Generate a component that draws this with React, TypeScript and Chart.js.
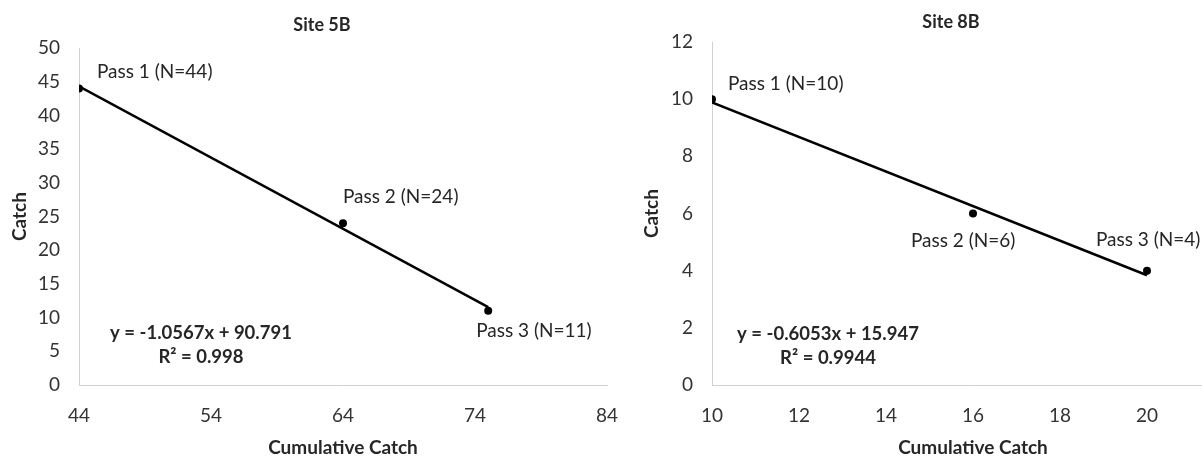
import React, { useEffect, useRef } from 'react';
import { Chart, registerables } from 'chart.js';

Chart.register(...registerables);

// ---------- Data ----------
const site5bTitle = 'Site 5B';
const site5bX = [44, 64, 75];
const site5bY = [44, 24, 11];
const site5bPointLabels = ['Pass 1 (N=44)', 'Pass 2 (N=24)', 'Pass 3 (N=11)'];
const site5bTrendX = [44, 75];
const site5bTrendY = [44.3, 11.54];
const site5bEquation = ['y = -1.0567x + 90.791', 'R² = 0.998'];
const site5bXTicks = [44, 54, 64, 74, 84];
const site5bYTicks = [0, 5, 10, 15, 20, 25, 30, 35, 40, 45, 50];

const site8bTitle = 'Site 8B';
const site8bX = [10, 16, 20];
const site8bY = [10, 6, 4];
const site8bPointLabels = ['Pass 1 (N=10)', 'Pass 2 (N=6)', 'Pass 3 (N=4)'];
const site8bTrendX = [10, 20];
const site8bTrendY = [9.89, 3.84];
const site8bEquation = ['y = -0.6053x + 15.947', 'R² = 0.9944'];
const site8bXTicks = [10, 12, 14, 16, 18, 20, 22];
const site8bYTicks = [0, 2, 4, 6, 8, 10, 12];

const xAxisTitle = 'Cumulative Catch';
const yAxisTitle = 'Catch';

const FONT = 'Lato, "Open Sans", sans-serif';

type PanelProps = {
  title: string;
  xs: number[];
  ys: number[];
  pointLabels: string[];
  trendX: number[];
  trendY: number[];
  equation: string[];
  xTicks: number[];
  yTicks: number[];
  // layout / style
  left: number;
  width: number;
  height: number;
  yAxisWidth: number;
  yTitlePad: number;
  padTop: number;
  padRight: number;
  titleDx: number;
  titleY: number;
  labelOffsets: [number, number][];
  eqDx: number;
  eqDy: [number, number];
};

function Panel(p: PanelProps) {
  const ref = useRef<HTMLCanvasElement | null>(null);

  useEffect(() => {
    if (!ref.current) return;
    const annot = {
      id: 'annot',
      afterDatasetsDraw(chart: any) {
        const ctx = chart.ctx;
        const xs = chart.scales.x;
        const ys = chart.scales.y;
        const ca = chart.chartArea;
        ctx.save();
        ctx.fillStyle = '#262626';
        ctx.textBaseline = 'middle';
        // title
        ctx.font = `bold 18px ${FONT}`;
        ctx.textAlign = 'center';
        ctx.fillText(p.title, (ca.left + ca.right) / 2 + p.titleDx, p.titleY);
        // point labels
        ctx.font = `19px ${FONT}`;
        ctx.textAlign = 'left';
        p.pointLabels.forEach((t, i) => {
          const px = xs.getPixelForValue(p.xs[i]) + p.labelOffsets[i][0];
          const py = ys.getPixelForValue(p.ys[i]) + p.labelOffsets[i][1];
          ctx.fillText(t, px, py);
        });
        // equation
        ctx.font = `bold 18.5px ${FONT}`;
        ctx.textAlign = 'center';
        ctx.fillText(p.equation[0], ca.left + p.eqDx, ca.bottom + p.eqDy[0]);
        ctx.fillText(p.equation[1], ca.left + p.eqDx, ca.bottom + p.eqDy[1]);
        ctx.restore();
      },
    };

    const chart = new Chart(ref.current, {
      type: 'scatter',
      data: {
        datasets: [
          {
            label: 'Trend',
            data: p.trendX.map((x, i) => ({ x, y: p.trendY[i] })),
            showLine: true,
            borderColor: '#000',
            borderWidth: 2.5,
            pointRadius: 0,
            fill: false,
          },
          {
            label: 'Catch',
            data: p.xs.map((x, i) => ({ x, y: p.ys[i] })),
            showLine: false,
            backgroundColor: '#000',
            borderColor: '#000',
            pointRadius: 4,
            pointBorderWidth: 0,
          },
        ],
      },
      options: {
        animation: false,
        responsive: false,
        maintainAspectRatio: false,
        layout: { padding: { left: 0, top: p.padTop, right: p.padRight, bottom: 0 } },
        plugins: {
          legend: { display: false },
          title: { display: false },
          tooltip: { enabled: false },
        },
        scales: {
          x: {
            type: 'linear',
            min: p.xTicks[0],
            max: p.xTicks[p.xTicks.length - 1],
            afterBuildTicks: (s: any) => {
              s.ticks = p.xTicks.map((v) => ({ value: v }));
            },
            afterFit: (s: any) => {
              s.height = 72;
              s.paddingLeft = 0;
              s.paddingRight = 0;
            },
            grid: { display: false, drawTicks: false },
            border: { display: true, color: '#d0d0d0', width: 1 },
            ticks: {
              padding: 19,
              color: '#333',
              font: { family: FONT, size: 19 },
              maxRotation: 0,
              autoSkip: false,
            },
            title: {
              display: true,
              text: xAxisTitle,
              color: '#262626',
              font: { family: FONT, size: 19, weight: 'bold', lineHeight: 1 },
              padding: { top: 0, bottom: 0 },
            },
          },
          y: {
            type: 'linear',
            min: p.yTicks[0],
            max: p.yTicks[p.yTicks.length - 1],
            afterBuildTicks: (s: any) => {
              s.ticks = p.yTicks.map((v) => ({ value: v }));
            },
            afterFit: (s: any) => {
              s.width = p.yAxisWidth;
              s.paddingTop = 0;
              s.paddingBottom = 0;
            },
            grid: { display: false, drawTicks: false },
            border: { display: true, color: '#d0d0d0', width: 1 },
            ticks: {
              padding: 19,
              color: '#333',
              font: { family: FONT, size: 19 },
              autoSkip: false,
            },
            title: {
              display: true,
              text: yAxisTitle,
              color: '#262626',
              font: { family: FONT, size: 19, weight: 'bold', lineHeight: 1 },
              padding: { top: p.yTitlePad, bottom: 0 },
            },
          },
        },
      } as any,
      plugins: [annot],
    });
    return () => chart.destroy();
  }, []);

  return (
    <canvas
      ref={ref}
      width={p.width}
      height={p.height}
      style={{ position: 'absolute', left: p.left, top: 0, width: p.width, height: p.height }}
    />
  );
}

export default function App() {
  return (
    <div
      style={{
        position: 'absolute',
        left: 0,
        top: 0,
        width: 1202,
        height: 457,
        overflow: 'hidden',
        background: '#fff',
      }}
    >
      <Panel
        title={site5bTitle}
        xs={site5bX}
        ys={site5bY}
        pointLabels={site5bPointLabels}
        trendX={site5bTrendX}
        trendY={site5bTrendY}
        equation={site5bEquation}
        xTicks={site5bXTicks}
        yTicks={site5bYTicks}
        left={0}
        width={620}
        height={457}
        yAxisWidth={79}
        yTitlePad={10.5}
        padTop={48}
        padRight={13}
        titleDx={-21}
        titleY={25}
        labelOffsets={[
          [18, -17],
          [0, -26],
          [-12, 20],
        ]}
        eqDx={122}
        eqDy={[-52, -28]}
      />
      <Panel
        title={site8bTitle}
        xs={site8bX}
        ys={site8bY}
        pointLabels={site8bPointLabels}
        trendX={site8bTrendX}
        trendY={site8bTrendY}
        equation={site8bEquation}
        xTicks={site8bXTicks}
        yTicks={site8bYTicks}
        left={600}
        width={640}
        height={457}
        yAxisWidth={112}
        yTitlePad={42.5}
        padTop={42}
        padRight={6}
        titleDx={-22}
        titleY={22}
        labelOffsets={[
          [16, -15],
          [-62, 27],
          [-51, -31],
        ]}
        eqDx={116}
        eqDy={[-51, -27]}
      />
    </div>
  );
}
